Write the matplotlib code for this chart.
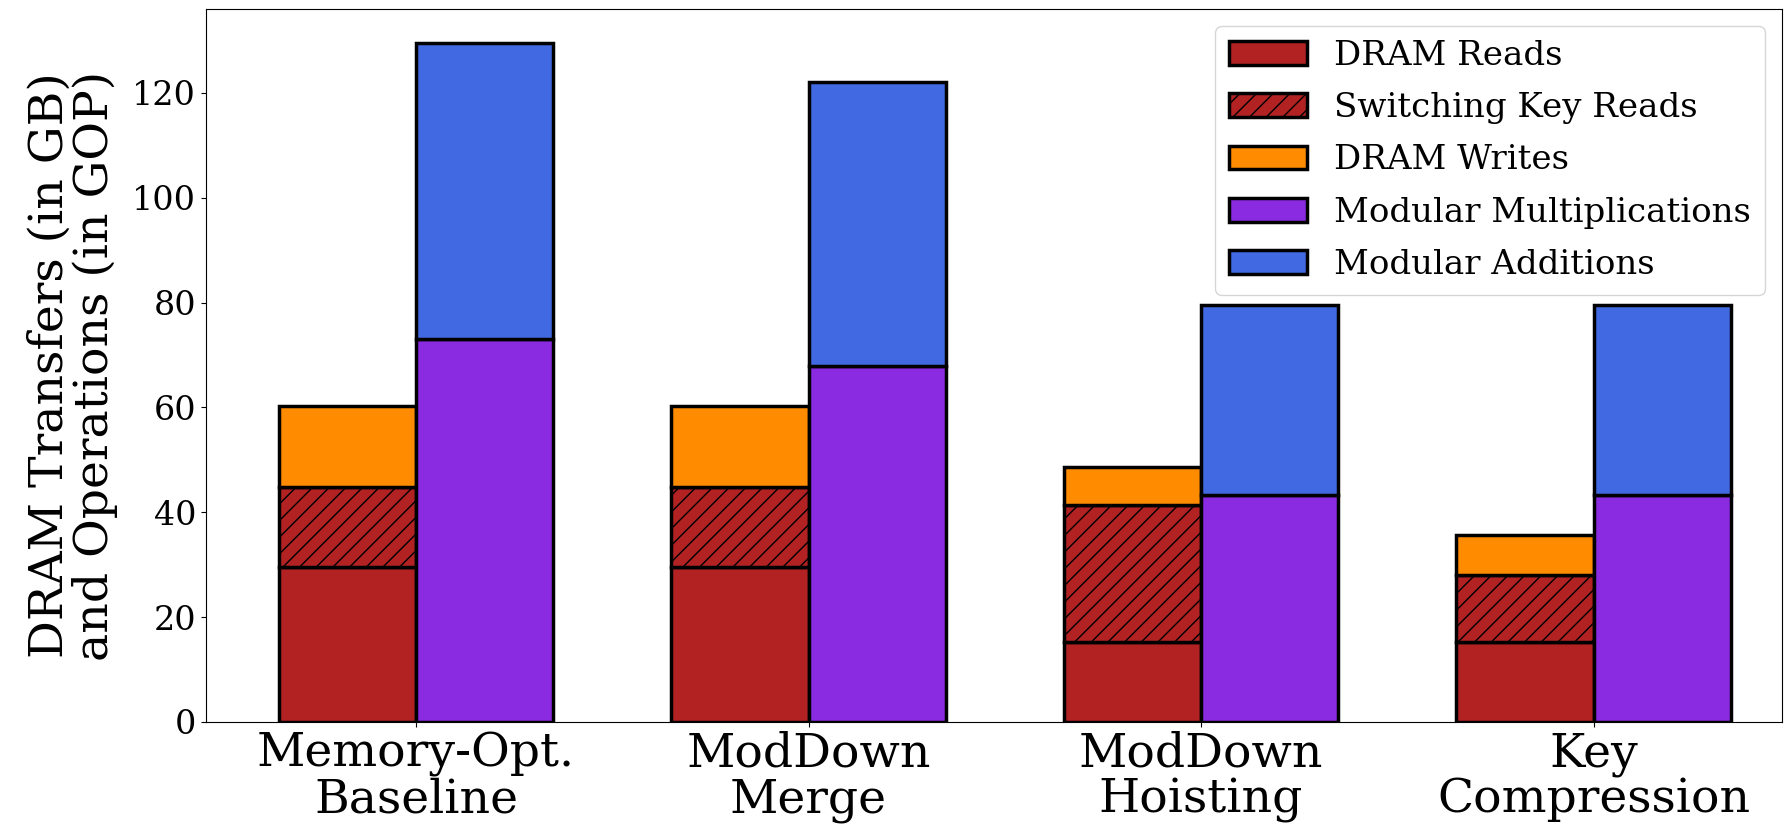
import matplotlib
matplotlib.use("Agg")
import matplotlib.pyplot as plt
import numpy as np

categories = ["Memory-Opt.\nBaseline", "ModDown\nMerge", "ModDown\nHoisting", "Key\nCompression"]
dram_reads = [29.6, 29.6, 15.2, 15.2]
switching_key_reads = [15.2, 15.2, 26.1, 12.8]
dram_writes = [15.4, 15.4, 7.4, 7.7]
mod_mults = [73.0, 68.0, 43.3, 43.3]
mod_adds = [56.6, 54.0, 36.3, 36.3]

plt.rcParams['font.family'] = ['DejaVu Serif']
plt.rcParams['hatch.linewidth'] = 1.0

fig = plt.figure(figsize=(17.89, 8.32), dpi=100)
ax = fig.add_axes([206/1789, 1 - 722/832, (1782-206)/1789, (722-9)/832])

x = np.arange(len(categories))
w = 0.35
ekw = dict(edgecolor='black', linewidth=2.5)

r = np.array(dram_reads)
s = np.array(switching_key_reads)
wr = np.array(dram_writes)
m = np.array(mod_mults)
a = np.array(mod_adds)

ax.bar(x - w/2, r, w, color='#B22222', label='DRAM Reads', **ekw)
ax.bar(x - w/2, s, w, bottom=r, color='#B22222', hatch='//', label='Switching Key Reads', **ekw)
ax.bar(x - w/2, wr, w, bottom=r + s, color='#FF8C00', label='DRAM Writes', **ekw)
ax.bar(x + w/2, m, w, color='#8A2BE2', label='Modular Multiplications', **ekw)
ax.bar(x + w/2, a, w, bottom=m, color='#4169E1', label='Modular Additions', **ekw)

ax.set_xticks(x)
ax.set_xticklabels(categories, fontsize=34, linespacing=1.0)
ax.tick_params(axis='y', labelsize=24)
ax.set_xlim(-0.535, 3.48)
ax.set_ylim(0, 136)
ax.set_ylabel("DRAM Transfers (in GB)\nand Operations (in GOP)", fontsize=34, linespacing=1.0, labelpad=10)
ax.legend(loc='upper right', fontsize=24.5, handlelength=2.3, labelspacing=0.6)

fig.savefig("out.png", dpi=100)
